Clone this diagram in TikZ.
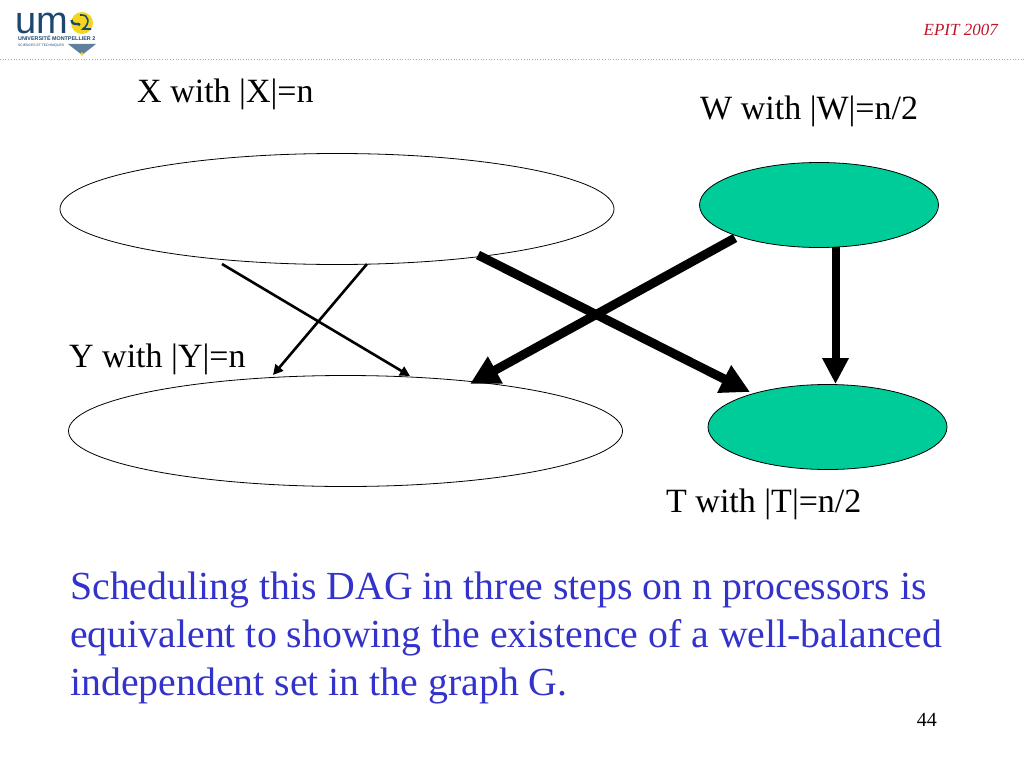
\documentclass[tikz,border=0pt]{standalone}
\usepackage{fontspec}
\setmainfont{Liberation Serif}
\newfontfamily\logofont{Liberation Sans}
\usetikzlibrary{shapes.geometric,arrows.meta}
\definecolor{tealfill}{RGB}{0,204,153}
\definecolor{bodyblue}{RGB}{51,51,204}
\definecolor{epitred}{RGB}{190,20,40}
\definecolor{logoblue}{RGB}{28,72,112}
\definecolor{logoyellow}{RGB}{244,214,30}
\tikzset{
  setshape/.style={ellipse,draw=black,line width=0.8pt,inner sep=0pt,minimum width=554pt,minimum height=111pt},
  smallset/.style={ellipse,draw=black,line width=0.8pt,fill=tealfill,inner sep=0pt,minimum width=239pt,minimum height=85pt},
  thinarrow/.style={draw=black,line width=2.6pt,-{Triangle[length=10pt,width=10pt]}},
  thickarrow/.style={draw=black,line width=9pt,-{Triangle[length=29pt,width=29pt]}},
  setlabel/.style={inner sep=0pt,anchor=base west,font=\fontsize{34}{38}\selectfont},
  bodyline/.style={inner sep=0pt,anchor=base west,text=bodyblue,font=\fontsize{39.8}{48}\selectfont},
}
\begin{document}
\begin{tikzpicture}[x=1pt,y=-1pt]
\useasboundingbox (0,0) rectangle (1024,768);
% header
\fill[logoyellow] (82,23) circle (11pt);
\draw[logoblue,line width=2.4pt] (71.5,20) .. controls (73,27) and (78,22) .. (80,25);
\draw[logoblue,line width=1.6pt] (80,15) .. controls (90,14) and (90,24) .. (83,29) -- (91,29);
\node[inner sep=0pt,anchor=base west,text=logoblue,font=\logofont\fontsize{38}{38}\selectfont] (logoum) at (15,34) {um};
\node[inner sep=0pt,anchor=base west,text=logoblue,font=\logofont\bfseries\fontsize{5.4}{5.4}\selectfont] (logouniv) at (18,41) {UNIVERSITÉ MONTPELLIER 2};
\node[inner sep=0pt,anchor=base west,text=logoblue,font=\logofont\fontsize{3.4}{3.4}\selectfont] (logosci) at (18,46) {SCIENCES ET TECHNIQUES};
\fill[logoblue!70] (68,44) -- (96,44) -- (82,55) -- cycle;
\fill[logoyellow] (82,54) circle (1.8pt);
\draw[gray!70,line width=0.7pt,dotted] (0,59.5) -- (1024,59.5);
\node[inner sep=0pt,anchor=base east,text=epitred,font=\itshape\fontsize{17}{18}\selectfont] (epit) at (998,36) {EPIT 2007};
% ellipses
\node[setshape] (X) at (337,209) {};
\node[setshape] (Y) at (345.5,431) {};
\node[smallset] (W) at (819,205) {};
\node[smallset] (T) at (827.5,427) {};
% labels
\node[setlabel] (lx) at (137,102.5) {X with |X|=n};
\node[setlabel] (lw) at (700,119.5) {W with |W|=n/2};
\node[setlabel] (ly) at (69,367.5) {Y with |Y|=n};
\node[setlabel] (lt) at (666,512.5) {T with |T|=n/2};
% connector ends
\coordinate (a1) at (222,264);
\coordinate (a2) at (410,376);
\coordinate (b1) at (367,264);
\coordinate (b2) at (273,375);
\coordinate (c1) at (478,255);
\coordinate (c2) at (750,392);
\coordinate (d1) at (735,238);
\coordinate (d2) at (470,384);
\coordinate (e1) at (835.5,247);
\coordinate (e2) at (835.5,384);
\draw[thinarrow] (a1) -- (a2);
\draw[thinarrow] (b1) -- (b2);
\draw[thickarrow] (c1) -- (c2);
\draw[thickarrow] (d1) -- (d2);
\draw[thickarrow,line width=8pt,-{Triangle[length=26pt,width=25pt]}] (e1) -- (e2);
% body
\node[bodyline] (b1t) at (70,599) {Scheduling this DAG in three steps on n processors is};
\node[bodyline] (b2t) at (70,647) {equivalent to showing the existence of a well-balanced};
\node[bodyline] (b3t) at (70,695) {independent set in the graph G.};
\node[inner sep=0pt,anchor=base east,font=\fontsize{20}{20}\selectfont] (pg) at (937,726) {44};
\end{tikzpicture}
\end{document}
